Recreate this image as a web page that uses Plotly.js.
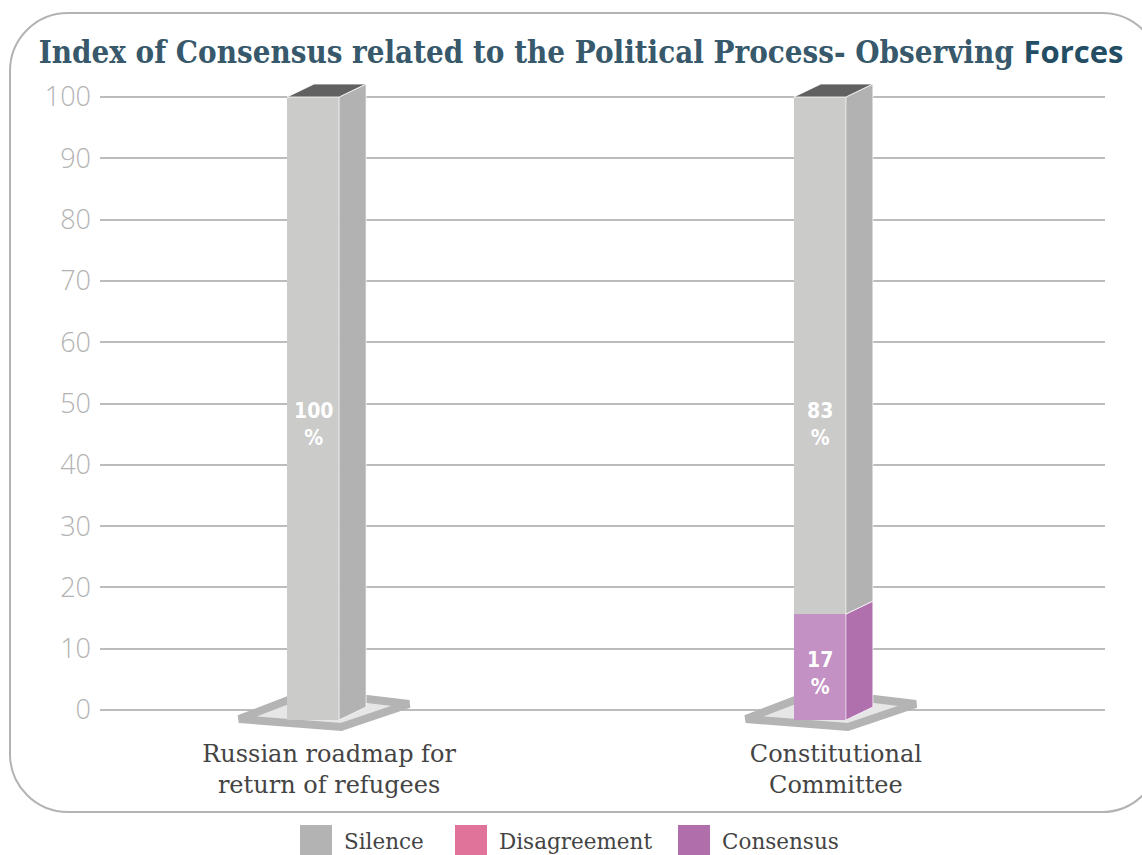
<!DOCTYPE html>
<html>
<head>
<meta charset="utf-8">
<script src="https://cdn.plot.ly/plotly-3.0.1.min.js"></script>
<style>
  html, body { margin: 0; padding: 0; background: #ffffff; overflow: hidden; }
  #chart { width: 1142px; height: 855px; }
</style>
</head>
<body>
<div id="chart"></div>
<script>
// ---------------- DATA ----------------
const categories = ["Russian roadmap for return of refugees", "Constitutional Committee"];
const tickLabels = ["Russian roadmap for<br>return of refugees", "Constitutional<br>Committee"];
const seriesNames = ["Silence", "Disagreement", "Consensus"];
const silence = [100, 83];
const disagreement = [0, 0];
const consensus = [0, 17];
const yTicks = [0, 10, 20, 30, 40, 50, 60, 70, 80, 90, 100];

// ---------------- STYLE / GEOMETRY ----------------
const W = 1142, H = 855;
const M = { l: 100, r: 37, t: 79, b: 114 };
const PW = W - M.l - M.r, PH = H - M.t - M.b;
const X_RANGE = [-0.452, 1.531];
const Y_RANGE = [-5.057, 102.936];      // grid scale
const Y2_RANGE = [-3.371, 102.889];     // bar (front plane) scale
const PX_X = PW / (X_RANGE[1] - X_RANGE[0]);
const PX_Y = PH / (Y_RANGE[1] - Y_RANGE[0]);
const PX_Y2 = PH / (Y2_RANGE[1] - Y2_RANGE[0]);
const BAR_W = 52 / PX_X;
const BAR_OFF = -42 / PX_X;
const DX = 27 / PX_X, DY = 13 / PX_Y2;

const colors = {
  Silence:      { front: "#cbcbca", side: "#b2b2b2", legend: "#b3b3b3" },
  Disagreement: { front: "#e68aab", side: "#dc6d95", legend: "#e07399" },
  Consensus:    { front: "#c391c3", side: "#b070ae", legend: "#b06fab" }
};
const CAP_COLOR = "#616161";
const LABEL_Y = { Silence: 47.4, Disagreement: 30, Consensus: 7.4 };
const LEGEND_X = [300, 455, 678];

const valuesByName = { Silence: silence, Disagreement: disagreement, Consensus: consensus };
const stackOrder = ["Consensus", "Disagreement", "Silence"]; // bottom -> top
const xPos = categories.map((c, i) => i);

const pxToPaperX = px => (px - M.l) / PW;
const pxToPaperY = py => 1 - (py - M.t) / PH;
const BASE_PX = M.t + Y2_RANGE[1] * PX_Y2;
const pyToY = py => Y_RANGE[1] - (py - M.t) / PX_Y;

// ---------------- TRACES ----------------
const traces = [{
  type: "scatter", mode: "markers", x: xPos, y: xPos.map(() => 0), xaxis: "x", yaxis: "y",
  marker: { opacity: 0, size: 1 }, showlegend: false, hoverinfo: "skip"
}];

const bases = xPos.map(() => 0);
const segs = [];
stackOrder.forEach(name => {
  const vals = valuesByName[name];
  traces.push({
    type: "bar", name: name, x: xPos, y: vals, yaxis: "y2",
    width: xPos.map(() => BAR_W), offset: xPos.map(() => BAR_OFF),
    marker: { color: colors[name].front, line: { width: 0 } },
    showlegend: false, hoverinfo: "skip"
  });
  xPos.forEach((x, i) => {
    if (vals[i] > 0) segs.push({ name, i, b: bases[i], t: bases[i] + vals[i], v: vals[i] });
    bases[i] += vals[i];
  });
});

// side faces
stackOrder.forEach(name => {
  const xs = [], ys = [];
  segs.filter(s => s.name === name).forEach(s => {
    const xr = xPos[s.i] + BAR_OFF + BAR_W;
    xs.push(xr, xr + DX, xr + DX, xr, xr, null);
    ys.push(s.b, s.b + DY, s.t + DY, s.t, s.b, null);
  });
  if (xs.length) traces.push({
    type: "scatter", mode: "lines", x: xs, y: ys, yaxis: "y2",
    fill: "toself", fillcolor: colors[name].side,
    line: { color: "rgba(255,255,255,0.7)", width: 1 },
    showlegend: false, hoverinfo: "skip"
  });
});

// top caps
{
  const xs = [], ys = [];
  xPos.forEach((x, i) => {
    const xl = x + BAR_OFF, xr = xl + BAR_W, t = bases[i];
    xs.push(xl, xr, xr + DX, xl + DX, xl, null);
    ys.push(t, t, t + DY, t + DY, t, null);
  });
  traces.push({
    type: "scatter", mode: "lines", x: xs, y: ys, yaxis: "y2",
    fill: "toself", fillcolor: CAP_COLOR,
    line: { color: "rgba(255,255,255,0.8)", width: 1 },
    showlegend: false, hoverinfo: "skip"
  });
}

// ---------------- SHAPES ----------------
const shapes = [];
xPos.forEach(x => {
  const xr = x + BAR_OFF + BAR_W;
  const pt = (dxp, dyp) => `${xr + dxp / PX_X},${pyToY(BASE_PX + dyp)}`;
  shapes.push({
    type: "path", xref: "x", yref: "y", layer: "between",
    path: `M${pt(-100, -1)} L${pt(2, 7)} L${pt(70, -16)} L${pt(-30, -28)} Z`,
    fillcolor: "#e6e6e6", line: { color: "#b4b4b4", width: 8 }
  });
});

// rounded frame
{
  const l = 10, t = 13, r = 1160, b = 812, rad = 58, k = 0.5523 * rad;
  const P = (x, y) => `${pxToPaperX(x)},${pxToPaperY(y)}`;
  const path =
    `M${P(l + rad, t)} L${P(r - rad, t)} C${P(r - rad + k, t)} ${P(r, t + rad - k)} ${P(r, t + rad)} ` +
    `L${P(r, b - rad)} C${P(r, b - rad + k)} ${P(r - rad + k, b)} ${P(r - rad, b)} ` +
    `L${P(l + rad, b)} C${P(l + rad - k, b)} ${P(l, b - rad + k)} ${P(l, b - rad)} ` +
    `L${P(l, t + rad)} C${P(l, t + rad - k)} ${P(l + rad - k, t)} ${P(l + rad, t)} Z`;
  shapes.push({ type: "path", xref: "paper", yref: "paper", layer: "below", path,
    line: { color: "#b3b3b3", width: 2 } });
}

// legend swatches + labels
const annotations = [];
seriesNames.forEach((name, k) => {
  const x0 = LEGEND_X[k];
  shapes.push({ type: "rect", xref: "paper", yref: "paper", layer: "above",
    x0: pxToPaperX(x0), x1: pxToPaperX(x0 + 32), y0: pxToPaperY(825), y1: pxToPaperY(858),
    fillcolor: colors[name].legend, line: { width: 0 } });
  annotations.push({ xref: "paper", yref: "paper", x: pxToPaperX(x0 + 42), y: pxToPaperY(842),
    xanchor: "left", yanchor: "middle", showarrow: false, text: name,
    font: { family: "DejaVu Serif", size: 21.5, color: "#444444" } });
});

// data labels
segs.forEach(s => {
  annotations.push({ xref: "x", yref: "y2", x: xPos[s.i] + BAR_OFF + BAR_W / 2, y: LABEL_Y[s.name],
    text: `${s.v}<br>%`, showarrow: false, xanchor: "center", yanchor: "middle",
    font: { family: "DejaVu Sans Condensed, Liberation Sans Narrow, Roboto", size: 21, color: "#ffffff", weight: "bold" } });
});

// ---------------- LAYOUT ----------------
const layout = {
  width: W, height: H, margin: M,
  paper_bgcolor: "#ffffff", plot_bgcolor: "rgba(0,0,0,0)",
  barmode: "stack", showlegend: false,
  title: {
    text: 'Index of Consensus related to the Political Process- Observing <span style="font-family:\'Open Sans\';color:#234d63">Forces</span>',
    x: 0.5088, xanchor: "center", y: 1 - 52 / H, yanchor: "middle",
    font: { family: "DejaVu Serif Condensed, DejaVu Serif", size: 31, color: "#37596b", weight: "bold" }
  },
  xaxis: {
    range: X_RANGE, tickvals: xPos, ticktext: tickLabels, showgrid: false, zeroline: false,
    showline: false, ticks: "", ticklabelstandoff: -4, fixedrange: true,
    tickfont: { family: "DejaVu Serif", size: 24, color: "#444444" }
  },
  yaxis: {
    range: Y_RANGE, tickvals: yTicks, showgrid: true, gridcolor: "#bcbcbc", gridwidth: 2,
    zeroline: false, showline: false, ticks: "", ticklabelstandoff: 8, fixedrange: true,
    tickfont: { family: "Open Sans", size: 27, color: "#b3b3b3", weight: 300 }
  },
  yaxis2: { range: Y2_RANGE, overlaying: "y", visible: false, fixedrange: true },
  shapes, annotations
};

Plotly.newPlot("chart", traces, layout, { displayModeBar: false, staticPlot: true });
</script>
</body>
</html>
